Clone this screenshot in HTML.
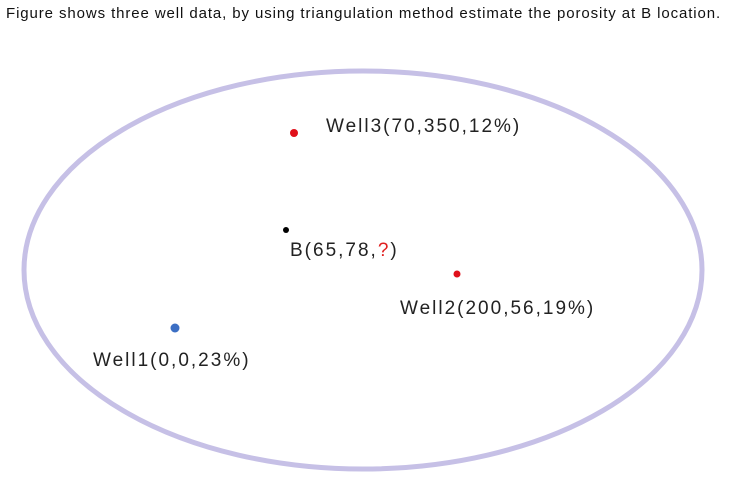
<!DOCTYPE html>
<html><head><meta charset="utf-8"><style>
html,body{margin:0;padding:0;background:#fff;}
body{width:733px;height:487px;overflow:hidden;position:relative;font-family:"Liberation Sans",sans-serif;}
#title{position:absolute;left:6px;top:5px;font-size:15px;color:#111;letter-spacing:0.9px;white-space:nowrap;}
svg{position:absolute;left:0;top:0;}
</style></head><body>
<div id="title">Figure shows three well data, by using triangulation method estimate the porosity at B location.</div>
<svg width="733" height="487">
<ellipse cx="363" cy="270" rx="339" ry="199" fill="none" stroke="#c6c0e6" stroke-width="5"/>
<g id="pts"></g>
</svg>
<script>
const names=["Well3","B","Well2","Well1"];
const px=[294,286,457,175];
const py=[133,230,274,328];
const colors=["#e0101a","#000","#e0101a","#3c6fc4"];
const radius=[4,3,3.5,4.5];
const labels=["Well3(70,350,12%)","B(65,78,?)","Well2(200,56,19%)","Well1(0,0,23%)"];
const lx=[326,290,400,93];
const ly=[132,256,314,366];
const g=document.getElementById('pts');
const ns="http://www.w3.org/2000/svg";
for(let i=0;i<names.length;i++){
  const c=document.createElementNS(ns,'circle');
  c.setAttribute('cx',px[i]);c.setAttribute('cy',py[i]);c.setAttribute('r',radius[i]);c.setAttribute('fill',colors[i]);
  
  
  g.appendChild(c);
  const t=document.createElementNS(ns,'text');
  t.setAttribute('x',lx[i]);t.setAttribute('y',ly[i]);
  t.setAttribute('font-size','19');t.setAttribute('fill','#222');
  t.setAttribute('letter-spacing','2');
  t.setAttribute('font-family','"Liberation Sans",sans-serif');
  
  
  const s=labels[i];
  const q=s.indexOf('?');
  if(q>=0){
    t.appendChild(document.createTextNode(s.slice(0,q)));
    const sp=document.createElementNS(ns,'tspan');sp.setAttribute('fill','#e02020');sp.textContent='?';
    t.appendChild(sp);
    t.appendChild(document.createTextNode(s.slice(q+1)));
  } else t.textContent=s;
  g.appendChild(t);
}
</script>
</body></html>
